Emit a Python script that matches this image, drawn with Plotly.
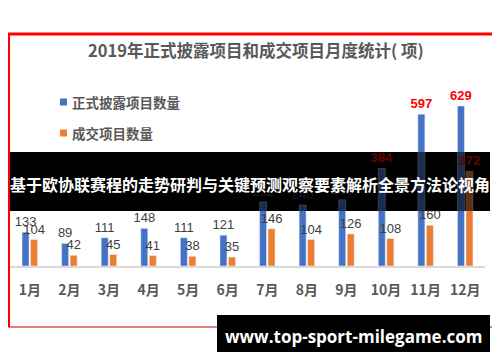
import plotly.graph_objects as go

months = ["1月", "2月", "3月", "4月", "5月", "6月", "7月", "8月", "9月", "10月", "11月", "12月"]
disclosed = [133, 89, 111, 148, 111, 121, 252, 240, 260, 384, 597, 629]
traded = [104, 42, 45, 41, 38, 35, 146, 104, 126, 108, 160, 372]
series_names = ["正式披露项目数量", "成交项目数量"]
title_text = "2019年正式披露项目和成交项目月度统计( 项)"
banner_text = "基于欧协联赛程的走势研判与关键预测观察要素解析全景方法论视角"
site_text = "www.top-sport-milegame.com"

# The page body has an 8px margin, so the figure is sized/offset to compensate.
OFF = 8
W, H = 500 - OFF, 362 - OFF
# plot area in page pixels: x 10..485, y 88..266
PX0, PX1, PY0, PY1 = 10, 485, 88, 266
L, R, T, B = PX0 - OFF, W - (PX1 - OFF), PY0 - OFF, H - (PY1 - OFF)
PW, PH = PX1 - PX0, PY1 - PY0

def px(x):
    return (x - PX0) / PW

def py(y):
    return (PY1 - y) / PH

BLUE = "#4472C4"
ORANGE = "#ED7D31"
GRAY = "#595959"
LBL = "#404040"
CJK = "Noto Sans CJK SC"

blue_lbl_col = [LBL] * 9 + ["#FF0000"] * 3
blue_lbl_w = ["normal"] * 9 + ["bold"] * 3
orange_lbl_col = [LBL] * 11 + ["#FF0000"]
orange_lbl_w = ["normal"] * 11 + ["bold"]

fig = go.Figure()
fig.add_trace(go.Bar(
    x=months, y=disclosed, name=series_names[0], marker_color=BLUE,
    text=disclosed, textposition="outside", cliponaxis=False, constraintext="none",
    textfont=dict(family="Liberation Sans", size=13, color=blue_lbl_col, weight=blue_lbl_w),
    showlegend=False,
))
fig.add_trace(go.Bar(
    x=months, y=traded, name=series_names[1], marker_color=ORANGE,
    text=traded, textposition="outside", cliponaxis=False, constraintext="none",
    textfont=dict(family="Liberation Sans", size=13, color=orange_lbl_col, weight=orange_lbl_w),
    showlegend=False,
))

shapes = []
# frame
shapes.append(dict(type="line", xref="paper", yref="paper", x0=px(0), x1=px(500), y0=py(34), y1=py(34),
                   line=dict(color="#FF0000", width=3), layer="above"))
shapes.append(dict(type="line", xref="paper", yref="paper", x0=px(9), x1=px(9), y0=py(33), y1=py(327),
                   line=dict(color="#FF0000", width=2), layer="above"))
shapes.append(dict(type="line", xref="paper", yref="paper", x0=px(0), x1=px(500), y0=py(327), y1=py(327),
                   line=dict(color="#C00000", width=1), layer="above"))
# legend squares
for yc, col in [(102, BLUE), (133, ORANGE)]:
    shapes.append(dict(type="rect", xref="paper", yref="paper", x0=px(60), x1=px(67), y0=py(yc - 3.5), y1=py(yc + 3.5),
                       fillcolor=col, line=dict(width=0), layer="above"))
# banner 1 (black under bars + dark veil above)
shapes.append(dict(type="rect", xref="paper", yref="paper", x0=px(10), x1=px(490), y0=py(152), y1=py(211),
                   fillcolor="black", line=dict(width=0), layer="below"))
shapes.append(dict(type="rect", xref="paper", yref="paper", x0=px(10), x1=px(490), y0=py(152), y1=py(211),
                   fillcolor="black", opacity=0.6, line=dict(width=0), layer="above"))
# banner 2
shapes.append(dict(type="rect", xref="paper", yref="paper", x0=px(217), x1=px(490), y0=py(315), y1=py(352),
                   fillcolor="black", line=dict(width=0), layer="above"))

annotations = [
    dict(text=title_text, xref="paper", yref="paper", x=px(256), y=py(50), showarrow=False,
         xanchor="center", yanchor="middle", font=dict(family=CJK, size=16.5, color=GRAY, weight="bold")),
    dict(text=series_names[0], xref="paper", yref="paper", x=px(70), y=py(102), showarrow=False,
         xanchor="left", yanchor="middle", font=dict(family=CJK, size=13.5, color=GRAY, weight="bold")),
    dict(text=series_names[1], xref="paper", yref="paper", x=px(70), y=py(133), showarrow=False,
         xanchor="left", yanchor="middle", font=dict(family=CJK, size=13.5, color=GRAY, weight="bold")),
    dict(text=banner_text, xref="paper", yref="paper", x=px(250), y=py(184), showarrow=False,
         xanchor="center", yanchor="middle", font=dict(family=CJK, size=16, color="white", weight="bold")),
    dict(text=site_text, xref="paper", yref="paper", x=px(353), y=py(336), showarrow=False,
         xanchor="center", yanchor="middle", font=dict(family="Open Sans", size=17, color="white", weight="bold")),
]

fig.update_layout(
    width=W, height=H,
    margin=dict(l=L, r=R, t=T, b=B, pad=0, autoexpand=False),
    paper_bgcolor="white", plot_bgcolor="white",
    barmode="group", bargap=0.57, bargroupgap=0.18,
    shapes=shapes, annotations=annotations,
    showlegend=False,
    xaxis=dict(showline=True, linecolor="#D9D9D9", linewidth=2, showgrid=False, zeroline=False,
               ticks="outside", ticklen=10, tickcolor="rgba(0,0,0,0)", automargin=False,
               tickfont=dict(family=CJK, size=14, color=GRAY, weight="bold"), fixedrange=True),
    yaxis=dict(range=[0, 700], showgrid=False, zeroline=False, showticklabels=False, showline=False,
               fixedrange=True, automargin=False),
)

fig.write_html("out.html")
